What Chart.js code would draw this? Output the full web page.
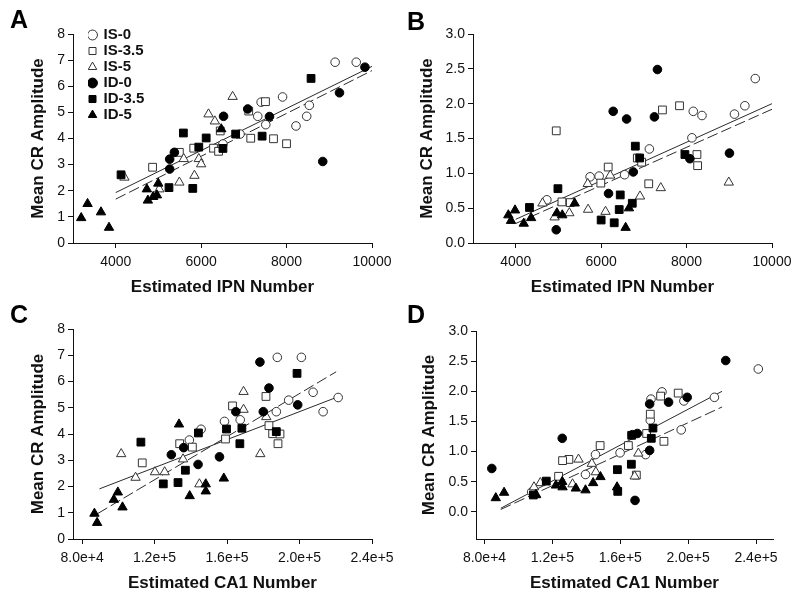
<!DOCTYPE html>
<html><head><meta charset="utf-8">
<script src="https://cdn.jsdelivr.net/npm/chart.js@4"></script>
<style>
html,body{margin:0;padding:0;background:#fff;}
body{width:800px;height:597px;position:relative;overflow:hidden;font-family:"Liberation Sans",Arial,sans-serif;}
.panel{position:absolute;width:400px;height:298px;}
.letter{position:absolute;font:bold 25px/25px "Liberation Sans",Arial,sans-serif;color:#000;}
</style></head><body>
<div class="panel" style="left:0;top:0"><canvas id="cA" width="400" height="298"></canvas></div>
<div class="panel" style="left:400px;top:0"><canvas id="cB" width="400" height="298"></canvas></div>
<div class="panel" style="left:0;top:296px"><canvas id="cC" width="400" height="298"></canvas></div>
<div class="panel" style="left:400px;top:296px"><canvas id="cD" width="400" height="298"></canvas></div>
<div class="letter" style="left:10px;top:6.7px">A</div>
<div class="letter" style="left:407px;top:9px">B</div>
<div class="letter" style="left:10px;top:302px">C</div>
<div class="letter" style="left:407px;top:302px">D</div>
<script>
// ---- series names ----
const seriesNames = ['IS-0','IS-3.5','IS-5','ID-0','ID-3.5','ID-5'];

// ---- Panel A: IPN number vs CR amplitude (session set 1) ----
const A_IS0  = [[9137,6.92],[9631,6.92],[7906,5.59],[7325,4.85],[7404,5.39],[7513,4.53],[6910,4.17],[6510,3.79],[8220,4.48],[8471,4.85],[8533,5.27]];
const A_IS35 = [[7114,5.05],[7506,5.41],[7161,4.01],[7694,3.99],[7999,3.80],[6447,4.29],[6290,3.63],[6408,3.51],[5827,3.63],[5490,3.47],[4863,2.90]];
const A_IS5  = [[6737,5.60],[6172,4.93],[6321,4.66],[5592,3.22],[5945,3.22],[6000,3.02],[5843,2.58],[5490,2.32],[4204,2.51],[5020,2.06]];
const A_ID0  = [[9835,6.73],[9239,5.75],[7600,4.84],[7090,5.13],[6525,4.85],[5373,3.47],[5263,3.21],[5263,2.83],[8847,3.12]];
const A_ID35 = [[8573,6.30],[5584,4.21],[6118,4.02],[5945,3.67],[6808,4.17],[6510,3.62],[7427,4.09],[5247,2.12],[5804,2.09],[4125,2.61]];
const A_ID5  = [[3192,0.96],[3341,1.50],[3655,1.18],[3843,0.59],[4729,2.06],[4753,1.63],[4878,1.77],[4965,1.83],[4996,2.28],[6471,4.36]];
const A_fitSolid  = [[4000,1.93],[10000,6.76]];
const A_fitDashed = [[4000,1.68],[10000,6.60]];

// ---- Panel B ----
const B_IS0  = [[9608,2.36],[9365,1.97],[9121,1.85],[8157,1.89],[8361,1.83],[8125,1.51],[7129,1.35],[6549,0.98],[5953,0.96],[5741,0.95],[4729,0.62]];
const B_IS35 = [[4949,1.61],[7835,1.97],[7435,1.91],[8243,1.27],[8259,1.11],[7114,0.85],[6847,1.22],[6949,1.16],[6165,1.09],[5992,0.86],[5082,0.59],[5278,0.58]];
const B_IS5  = [[8988,0.87],[7396,0.79],[6910,0.67],[6212,0.97],[5686,0.85],[5694,0.48],[6102,0.45],[5255,0.43],[4910,0.37],[4627,0.57]];
const B_ID0  = [[7318,2.49],[6282,1.89],[6596,1.78],[7247,1.81],[6753,1.02],[8078,1.21],[9004,1.29],[6173,0.71],[4949,0.19]];
const B_ID35 = [[6800,1.39],[6902,1.22],[7961,1.27],[4988,0.78],[6447,0.69],[6729,0.57],[6423,0.48],[6000,0.33],[6306,0.29],[4322,0.51]];
const B_ID5  = [[3827,0.40],[3984,0.47],[3890,0.32],[4188,0.28],[4361,0.36],[4965,0.43],[5090,0.40],[5380,0.57],[6651,0.50],[6573,0.22]];
const B_fitSolid  = [[4000,0.34],[10000,2.00]];
const B_fitDashed = [[4000,0.28],[10000,1.92]];

// ---- Panel C ----
const C_IS0  = [[187750,6.92],[201030,6.92],[221330,5.39],[207490,5.59],[194020,5.29],[213020,4.85],[187200,4.85],[167270,4.54],[158600,4.48],[145680,4.18],[139220,3.77]];
const C_IS35 = [[181480,5.43],[163030,5.07],[183140,4.32],[185170,4.01],[189220,4.00],[188120,3.63],[159150,3.81],[133870,3.63],[140880,3.50],[113210,2.90]];
const C_IS5  = [[169110,5.61],[169110,4.93],[181660,4.65],[178340,3.24],[101590,3.24],[135720,3.04],[120220,2.55],[125570,2.55],[109520,2.34],[144760,2.09]];
const C_ID0  = [[178150,6.74],[183140,5.75],[180000,4.85],[164870,4.85],[199000,5.11],[129260,3.21],[136090,3.48],[144020,2.84],[155830,3.13]];
const C_ID35 = [[198630,6.31],[112470,3.69],[144210,4.04],[159700,4.19],[168190,4.22],[167080,3.63],[187190,4.09],[137010,2.62],[124830,2.10],[132950,2.15]];
const C_ID5  = [[133500,4.37],[86830,0.97],[88300,0.62],[97530,1.50],[99740,1.78],[102320,1.21],[139400,1.64],[148260,2.09],[148260,1.82],[158230,2.31]];
const C_fitSolid  = [[89590,1.91],[220220,5.39]];
const C_fitDashed = [[88670,0.97],[220220,6.37]];

// ---- Panel D ----
const D_IS0  = [[241340,2.37],[215490,1.90],[197480,1.84],[184560,1.99],[178100,1.87],[177700,1.52],[195910,1.36],[174960,0.95],[159890,0.98],[145400,0.95],[139520,0.62],[107800,0.33]];
const D_IS35 = [[194150,1.97],[183770,1.92],[177700,1.62],[175550,1.30],[185730,1.17],[164780,1.10],[148140,1.10],[129730,0.87],[126010,0.85],[123660,0.59],[169480,0.61]];
const D_IS5  = [[135410,0.87],[143240,0.80],[145590,0.66],[170650,0.97],[168500,0.59],[131890,0.46],[112890,0.48],[109170,0.41],[110350,0.29]];
const D_ID0  = [[222150,2.51],[199440,1.90],[188470,1.82],[177310,1.79],[170070,1.30],[167130,1.28],[177310,1.02],[125820,1.22],[84310,0.72],[168700,0.19]];
const D_ID35 = [[179270,1.39],[178290,1.22],[166740,1.27],[166540,0.79],[158320,0.70],[158520,0.34],[116420,0.51],[108780,0.28]];
const D_ID5  = [[86660,0.23],[91550,0.32],[110350,0.28],[122100,0.44],[125820,0.50],[126010,0.41],[133840,0.39],[139520,0.36],[144020,0.48],[148330,0.58],[158120,0.41]];
const D_fitSolid  = [[89590,0.06],[220000,2.00]];
const D_fitDashed = [[89590,0.04],[220000,1.74]];

// ---- tick labels ----
const ipnTicks = [4000,6000,8000,10000];
const ca1Ticks = [80000,120000,160000,200000,240000];
const ampTicks8 = [0,1,2,3,4,5,6,7,8];
const ampTicks3 = [0,0.5,1.0,1.5,2.0,2.5,3.0];

// ---- styles ----
const markerStyles = [
  {pointStyle:'circle',   bg:'#ffffff', bd:'#333333', r:4.3},
  {pointStyle:'rect',     bg:'#ffffff', bd:'#333333', r:5.5},
  {pointStyle:'triangle', bg:'#ffffff', bd:'#333333', r:5.4},
  {pointStyle:'circle',   bg:'#000000', bd:'#000000', r:4.3},
  {pointStyle:'rect',     bg:'#000000', bd:'#000000', r:5.5},
  {pointStyle:'triangle', bg:'#000000', bd:'#000000', r:5.4}
];
const FONT = '"Liberation Sans", Arial, Helvetica, sans-serif';
Chart.defaults.font.family = FONT;
Chart.defaults.color = '#111';

const toXY = arr => arr.map(p => ({x:p[0], y:p[1]}));

const legendShift = {
  id:'legendShift',
  beforeDraw(chart, args, opts){
    const lg = chart.legend;
    if (lg && chart.options.plugins.legend.display) {
      const w = lg.width, h = lg.height;
      lg.left = opts.left; lg.top = opts.top;
      lg.right = lg.left + w; lg.bottom = lg.top + h;
    }
  }
};

function makePanel(id, p) {
  const datasets = p.series.map((s, i) => ({
    label: seriesNames[i],
    data: toXY(s),
    pointStyle: markerStyles[i].pointStyle,
    backgroundColor: markerStyles[i].bg,
    borderColor: markerStyles[i].bd,
    borderWidth: 1,
    pointRadius: markerStyles[i].r,
    pointHoverRadius: markerStyles[i].r,
    showLine: false,
    order: i < 3 ? 10 - i : 6 - i
  }));
  datasets.push({label:'fitSolid', data: toXY(p.fitSolid), showLine:true, pointRadius:0, borderColor:'#2a2a2a', borderWidth:1, fill:false, order:20});
  datasets.push({label:'fitDashed', data: toXY(p.fitDashed), showLine:true, pointRadius:0, borderColor:'#2a2a2a', borderWidth:1, borderDash:[11,4], fill:false, order:21});

  const axisCommon = {
    grid:{display:true, drawOnChartArea:false, drawTicks:true, tickLength:5, color:'#111', lineWidth:1},
    border:{display:true, color:'#111', width:1}
  };
  return new Chart(document.getElementById(id), {
    type:'scatter',
    data:{datasets},
    options:{
      responsive:false, animation:false, devicePixelRatio:1,
      layout:{padding:{left:p.padL, top:p.padT, right:p.padR, bottom:0}},
      plugins:{
        tooltip:{enabled:false},
        legend: p.legend ? {
          display:true, position:'chartArea', align:'start',
          labels:{
            usePointStyle:true, boxWidth:7, boxHeight:7, padding:1,
            font:{size:15, weight:'bold', family:FONT}, color:'#111',
            filter:(item) => item.datasetIndex < 6,
            sort:(a,b) => a.datasetIndex - b.datasetIndex
          }
        } : {display:false},
        legendShift:{left:88, top:26.5}
      },
      scales:{
        x:Object.assign({}, axisCommon, {
          type:'linear', position:'bottom', min:p.xMin, max:p.xMax,
          afterBuildTicks:s => { s.ticks = p.xTicks.map(v => ({value:v})); },
          afterFit:s => { s.height = 55; },
          ticks:{font:{size:14}, color:'#111', padding:6, maxRotation:0, autoSkip:false, callback:p.xFmt},
          title:{display:true, text:p.xTitle, font:{size:17, weight:'bold'}, color:'#111', padding:0}
        }),
        y:Object.assign({}, axisCommon, {
          type:'linear', position:'left', min:p.yMin, max:p.yMax,
          afterBuildTicks:s => { s.ticks = p.yTicks.map(v => ({value:v})); },
          afterFit:s => { s.width = p.yW; },
          ticks:{font:{size:14}, color:'#111', padding:3, autoSkip:false, callback:p.yFmt},
          title:{display:true, text:'Mean CR Amplitude', font:{size:17, weight:'bold'}, color:'#111', padding:0}
        })
      }
    },
    plugins:[legendShift]
  });
}

const fmtInt = v => String(v);
const fmt1 = v => Number(v).toFixed(1);
const fmtExp = v => Number(v).toExponential(1);

makePanel('cA', {series:[A_IS0,A_IS35,A_IS5,A_ID0,A_ID35,A_ID5], fitSolid:A_fitSolid, fitDashed:A_fitDashed,
  xMin:3000, xMax:10000, xTicks:ipnTicks, xFmt:fmtInt, xTitle:'Estimated IPN Number',
  yMin:0, yMax:8, yTicks:ampTicks8, yFmt:fmtInt, padL:28, yW:45, padT:34, padR:28, legend:true});
makePanel('cB', {series:[B_IS0,B_IS35,B_IS5,B_ID0,B_ID35,B_ID5], fitSolid:B_fitSolid, fitDashed:B_fitDashed,
  xMin:3000, xMax:10000, xTicks:ipnTicks, xFmt:fmtInt, xTitle:'Estimated IPN Number',
  yMin:0, yMax:3, yTicks:ampTicks3, yFmt:fmt1, padL:17.3, yW:55.7, padT:34, padR:28, legend:false});
makePanel('cC', {series:[C_IS0,C_IS35,C_IS5,C_ID0,C_ID35,C_ID5], fitSolid:C_fitSolid, fitDashed:C_fitDashed,
  xMin:75000, xMax:240000, xTicks:ca1Ticks, xFmt:fmtExp, xTitle:'Estimated CA1 Number',
  yMin:0, yMax:8, yTicks:ampTicks8, yFmt:fmtInt, padL:28, yW:45, padT:33, padR:28, legend:false});
makePanel('cD', {series:[D_IS0,D_IS35,D_IS5,D_ID0,D_ID35,D_ID5], fitSolid:D_fitSolid, fitDashed:D_fitDashed,
  xMin:75000, xMax:250000, xTicks:ca1Ticks, xFmt:fmtExp, xTitle:'Estimated CA1 Number',
  yMin:-0.45, yMax:3, yTicks:ampTicks3, yFmt:fmt1, padL:19.3, yW:56.7, padT:35, padR:27, legend:false});
</script>
</body></html>
